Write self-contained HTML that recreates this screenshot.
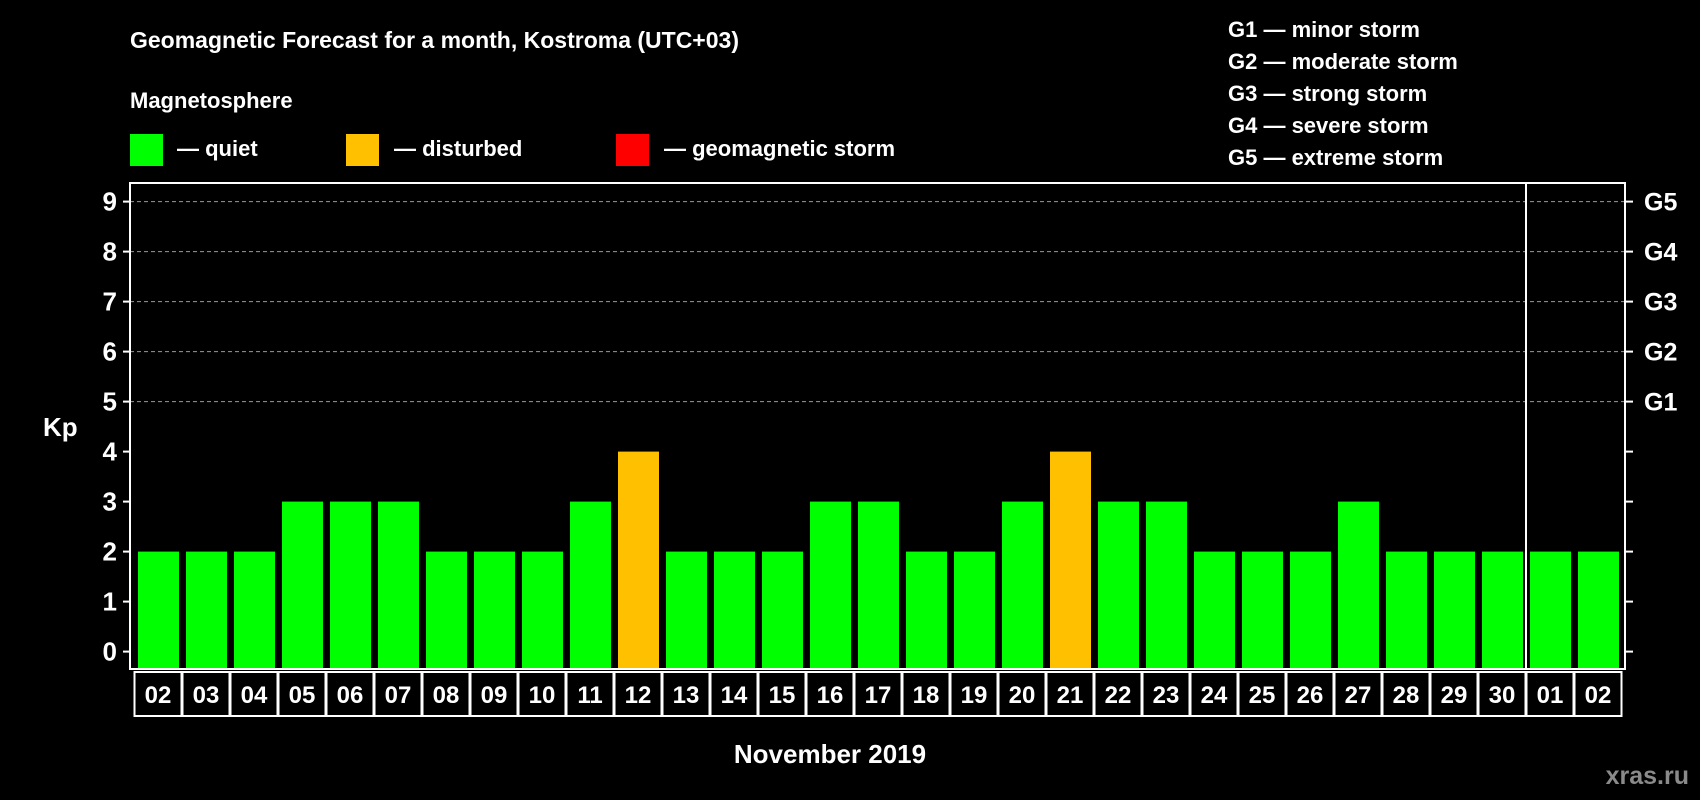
<!DOCTYPE html>
<html><head><meta charset="utf-8"><style>
html,body{margin:0;padding:0;background:#000;width:1700px;height:800px;overflow:hidden}
svg text{font-family:"Liberation Sans",Arial,sans-serif;font-weight:bold;fill:#fff}
</style></head><body>
<svg id="chart" width="1700" height="800" xmlns="http://www.w3.org/2000/svg">
<text x="130" y="48" font-size="23">Geomagnetic Forecast for a month, Kostroma (UTC+03)</text>
<text x="130" y="108" font-size="22">Magnetosphere</text>
<g><rect x="130" y="134" width="33" height="32" fill="#00ff00"/><text x="177" y="156" font-size="22">— quiet</text></g>
<g><rect x="346" y="134" width="33" height="32" fill="#ffc000"/><text x="394" y="156" font-size="22">— disturbed</text></g>
<g><rect x="616" y="134" width="33" height="32" fill="#ff0000"/><text x="664" y="156" font-size="22">— geomagnetic storm</text></g>
<g font-size="22">
<text x="1228" y="37">G1 — minor storm</text>
<text x="1228" y="69">G2 — moderate storm</text>
<text x="1228" y="101">G3 — strong storm</text>
<text x="1228" y="133">G4 — severe storm</text>
<text x="1228" y="165">G5 — extreme storm</text>
</g>
<g id="grid"></g>
<g id="bars"></g>
<g id="axes"></g>
<text x="43" y="436" font-size="26">Kp</text>
<text x="830" y="763" font-size="26" text-anchor="middle">November 2019</text>
<text x="1689" y="784" font-size="25" text-anchor="end" style="fill:#8a8a8a">xras.ru</text>
</svg>
<script>
const days = ["02","03","04","05","06","07","08","09","10","11","12","13","14","15","16","17","18","19","20","21","22","23","24","25","26","27","28","29","30","01","02"];
const kpValues = [2,2,2,3,3,3,2,2,2,3,4,2,2,2,3,3,2,2,3,4,3,3,2,2,2,3,2,2,2,2,2];
const yTicks = [0,1,2,3,4,5,6,7,8,9];
const gLabels = ["G1","G2","G3","G4","G5"];
const gLevels = [5,6,7,8,9];
const NS = "http://www.w3.org/2000/svg";
const L = 130, R = 1625, T = 183, B = 669, x0 = 134, slot = 48;
const y = v => 651.6 - v * 50;
const xs = i => x0 + i * slot;
function mk(tag, attrs, parent){const e=document.createElementNS(NS,tag);for(const k in attrs)e.setAttribute(k,attrs[k]);parent.appendChild(e);return e;}
const grid = document.getElementById('grid'), bars = document.getElementById('bars'), axes = document.getElementById('axes');
gLevels.forEach(v=>{
  const l = mk('line',{x1:L,x2:R,y1:y(v),y2:y(v),stroke:'#999','stroke-width':1,'stroke-dasharray':'4,3'},grid);
  
  
});
kpValues.forEach((v,i)=>{
  const r = mk('rect',{x:xs(i)+4,y:y(v),width:41,height:B-y(v),fill:v>=5?'#ff0000':(v>=4?'#ffc000':'#00ff00')},bars);
  
  
});
const frame = mk('rect',{x:L,y:T,width:R-L,height:B-T,fill:'none',stroke:'#fff','stroke-width':2},axes);


const sep = mk('line',{x1:xs(29),x2:xs(29),y1:T,y2:B,stroke:'#fff','stroke-width':2},axes);


yTicks.forEach(v=>{
  mk('line',{x1:L-7,x2:L,y1:y(v),y2:y(v),stroke:'#fff','stroke-width':2},axes);
  mk('line',{x1:R,x2:R+8,y1:y(v),y2:y(v),stroke:'#fff','stroke-width':2},axes);
  const t = mk('text',{x:117,y:y(v)+9,'font-size':26,'text-anchor':'end'},axes);
  t.textContent = v;
  
  
});
gLabels.forEach((g,i)=>{
  const t = mk('text',{x:1644,y:y(gLevels[i])+9,'font-size':25},axes);
  t.textContent = g;
  
  
});
days.forEach((d,i)=>{
  const b = mk('rect',{x:xs(i)+0.5,y:672,width:slot-1,height:44,fill:'none',stroke:'#fff','stroke-width':2},axes);
  
  
  const t = mk('text',{x:xs(i)+slot/2,y:703,'font-size':24,'text-anchor':'middle'},axes);
  t.textContent = d;
  
  
});
</script>
</body></html>
